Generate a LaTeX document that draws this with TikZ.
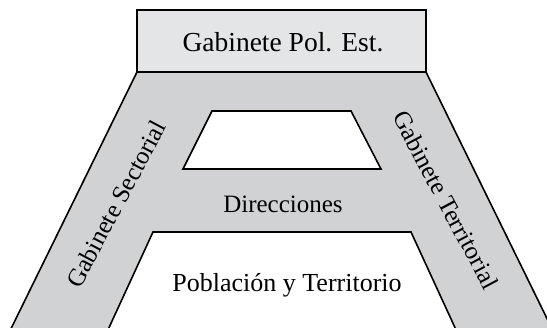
\documentclass[tikz,border=0pt]{standalone}
\usepackage{fontspec}
\setmainfont{Liberation Serif}
\definecolor{boxfill}{RGB}{228,229,230}
\definecolor{legfill}{RGB}{209,210,212}
\begin{document}
\begin{tikzpicture}[x=1pt,y=-1pt,
  lbl/.style={font=\fontsize{25}{30}\selectfont, inner sep=0pt},
  shapeline/.style={line width=1.6pt, line join=miter, draw=black}]
\useasboundingbox (0,0) rectangle (547,328);
\begin{scope}
  \clip (0,0) rectangle (547,328);
  \draw[shapeline, fill=legfill] (137,72) -- (426,72) -- (560,345) -- (463,345) -- (411,232) -- (153,232) -- (101,345) -- (3,345) -- cycle;
\end{scope}
\draw[shapeline, fill=white] (212,111) -- (351,111) -- (381,169) -- (183,169) -- cycle;
\draw[line width=2.4pt, fill=boxfill] (137,10) rectangle (426,72);
\node[lbl, font=\fontsize{27.5}{30}\selectfont] (pol) at (283,42) {Gabinete Pol. Est.};
\node[lbl] (dir) at (283,204) {Direcciones};
\node[lbl, font=\fontsize{26}{30}\selectfont] (pob) at (287,285) {Población y Territorio};
\node[lbl, rotate=62] (sec) at (116,204) {Gabinete Sectorial};
\node[lbl, rotate=-62] (ter) at (446,200) {Gabinete Territorial};
\end{tikzpicture}
\end{document}
